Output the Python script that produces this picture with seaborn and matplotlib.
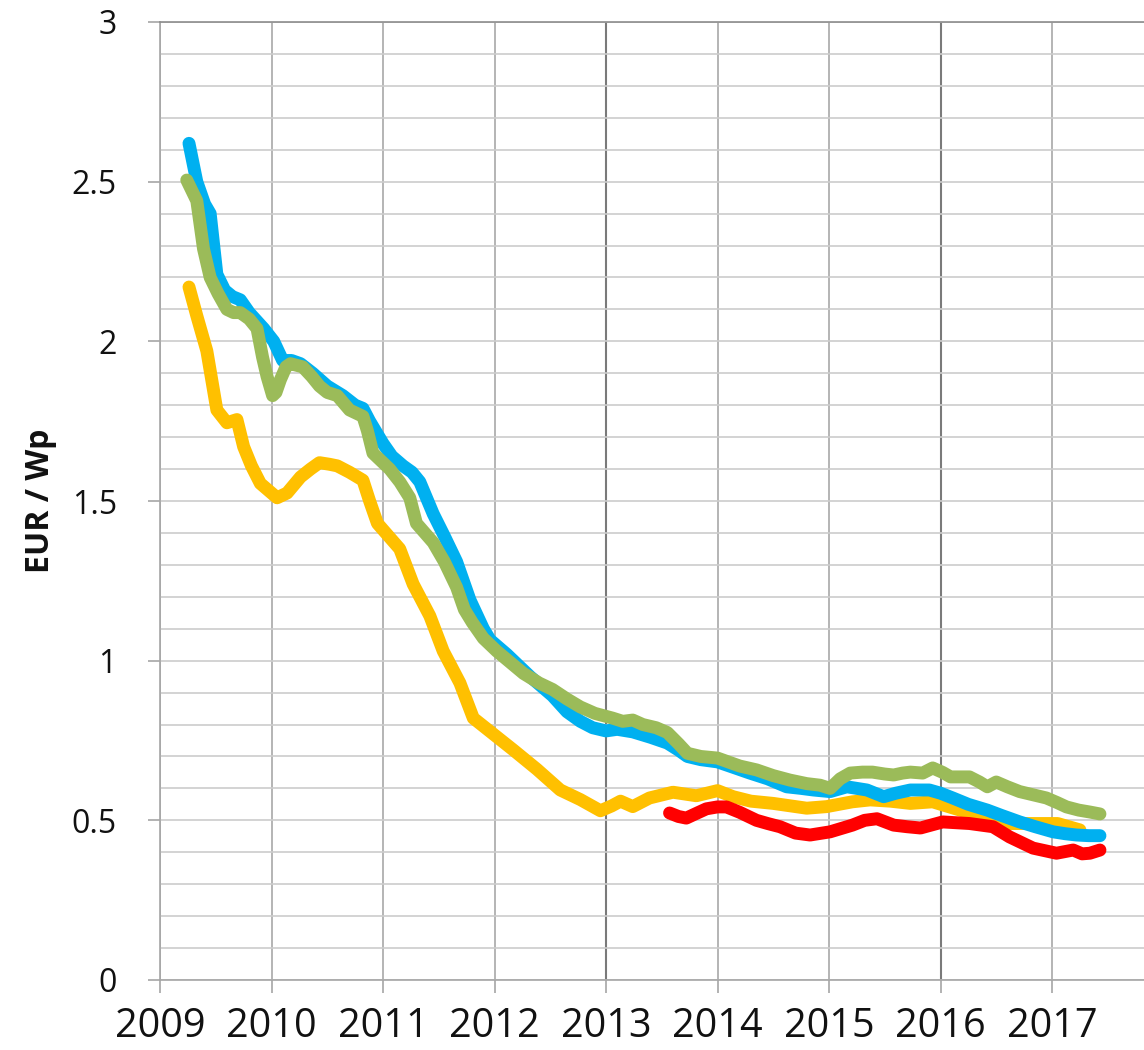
import numpy as np
import pandas as pd
import seaborn as sns
import matplotlib
matplotlib.use("Agg")
import matplotlib.pyplot as plt
from matplotlib.ticker import MultipleLocator

# ---- data: module price index (EUR / Wp) by decimal year ----
blue_x = [2009.26, 2009.33, 2009.40, 2009.45, 2009.51, 2009.58, 2009.65, 2009.72, 2009.80, 2009.93,
          2010.02, 2010.10, 2010.18, 2010.26, 2010.37, 2010.50, 2010.64, 2010.75, 2010.82, 2010.88,
          2011.00, 2011.08, 2011.18, 2011.26, 2011.33, 2011.45, 2011.55, 2011.66, 2011.78, 2011.90,
          2011.96, 2012.11, 2012.20, 2012.32, 2012.42, 2012.52, 2012.65, 2012.77, 2012.88, 2013.00,
          2013.10, 2013.24, 2013.40, 2013.55, 2013.65, 2013.73, 2013.85, 2014.00, 2014.15, 2014.29,
          2014.45, 2014.62, 2014.75, 2014.86, 2015.01, 2015.16, 2015.34, 2015.49, 2015.60, 2015.73,
          2015.90, 2016.00, 2016.11, 2016.25, 2016.42, 2016.55, 2016.71, 2016.85, 2017.01, 2017.12,
          2017.22, 2017.33, 2017.43]
blue_y = [2.62, 2.50, 2.43, 2.40, 2.21, 2.16, 2.14, 2.13, 2.09, 2.04,
          2.00, 1.94, 1.94, 1.93, 1.90, 1.86, 1.83, 1.80, 1.79, 1.75,
          1.68, 1.64, 1.61, 1.59, 1.56, 1.46, 1.39, 1.31, 1.19, 1.10,
          1.065, 1.02, 0.99, 0.95, 0.92, 0.89, 0.84, 0.81, 0.79, 0.78,
          0.785, 0.777, 0.76, 0.742, 0.72, 0.70, 0.69, 0.683, 0.665, 0.648,
          0.63, 0.605, 0.60, 0.595, 0.59, 0.605, 0.595, 0.574, 0.585, 0.595,
          0.595, 0.585, 0.57, 0.55, 0.532, 0.515, 0.495, 0.48, 0.464, 0.458,
          0.454, 0.452, 0.452]

green_x = [2009.24, 2009.33, 2009.39, 2009.45, 2009.52, 2009.60, 2009.66, 2009.72, 2009.80, 2009.87,
           2009.92, 2009.96, 2010.01, 2010.04, 2010.08, 2010.13, 2010.17, 2010.28, 2010.36, 2010.43,
           2010.50, 2010.59, 2010.70, 2010.82, 2010.86, 2010.91, 2011.00, 2011.06, 2011.15, 2011.24,
           2011.30, 2011.35, 2011.45, 2011.55, 2011.66, 2011.73, 2011.80, 2011.90, 2012.02, 2012.14,
           2012.26, 2012.40, 2012.52, 2012.65, 2012.77, 2012.90, 2013.06, 2013.15, 2013.24, 2013.33,
           2013.45, 2013.55, 2013.65, 2013.73, 2013.85, 2014.00, 2014.20, 2014.35, 2014.50, 2014.65,
           2014.80, 2014.92, 2015.01, 2015.10, 2015.19, 2015.30, 2015.39, 2015.50, 2015.58, 2015.66,
           2015.73, 2015.84, 2015.93, 2016.02, 2016.09, 2016.26, 2016.35, 2016.42, 2016.50, 2016.60,
           2016.71, 2016.83, 2016.95, 2017.05, 2017.13, 2017.24, 2017.34, 2017.43]
green_y = [2.505, 2.44, 2.29, 2.20, 2.15, 2.10, 2.09, 2.09, 2.07, 2.04,
           1.95, 1.89, 1.83, 1.84, 1.88, 1.92, 1.93, 1.92, 1.89, 1.86,
           1.84, 1.83, 1.785, 1.765, 1.72, 1.65, 1.62, 1.60, 1.56, 1.51,
           1.43, 1.41, 1.37, 1.31, 1.23, 1.16, 1.12, 1.07, 1.03, 0.995,
           0.96, 0.93, 0.91, 0.88, 0.855, 0.835, 0.82, 0.81, 0.814, 0.80,
           0.79, 0.775, 0.74, 0.71, 0.70, 0.695, 0.67, 0.658, 0.64, 0.626,
           0.615, 0.61, 0.60, 0.63, 0.648, 0.651, 0.651, 0.645, 0.642, 0.648,
           0.651, 0.648, 0.664, 0.65, 0.636, 0.636, 0.62, 0.605, 0.62, 0.605,
           0.59, 0.58, 0.57, 0.555, 0.542, 0.532, 0.526, 0.52]

yellow_x = [2009.26, 2009.33, 2009.42, 2009.51, 2009.60, 2009.69, 2009.75, 2009.82, 2009.90, 2010.05,
            2010.14, 2010.26, 2010.35, 2010.43, 2010.52, 2010.59, 2010.70, 2010.82, 2010.88, 2010.95,
            2011.05, 2011.15, 2011.27, 2011.42, 2011.54, 2011.69, 2011.81, 2011.99, 2012.17, 2012.38,
            2012.59, 2012.77, 2012.95, 2013.05, 2013.13, 2013.24, 2013.39, 2013.60, 2013.81, 2014.00,
            2014.14, 2014.30, 2014.50, 2014.80, 2014.98, 2015.21, 2015.37, 2015.55, 2015.73, 2015.93,
            2016.10, 2016.33, 2016.62, 2016.85, 2017.05, 2017.25]
yellow_y = [2.17, 2.08, 1.97, 1.785, 1.745, 1.755, 1.67, 1.61, 1.555, 1.51,
            1.525, 1.575, 1.60, 1.62, 1.615, 1.61, 1.59, 1.565, 1.50, 1.43,
            1.39, 1.35, 1.24, 1.14, 1.03, 0.93, 0.82, 0.77, 0.72, 0.66,
            0.595, 0.565, 0.53, 0.545, 0.56, 0.543, 0.57, 0.588, 0.577, 0.593,
            0.574, 0.56, 0.553, 0.538, 0.543, 0.558, 0.564, 0.56, 0.553, 0.558,
            0.54, 0.516, 0.49, 0.49, 0.49, 0.47]

red_x = [2013.57, 2013.65, 2013.72, 2013.80, 2013.90, 2014.00, 2014.08, 2014.20, 2014.35, 2014.45,
         2014.56, 2014.70, 2014.83, 2015.01, 2015.21, 2015.32, 2015.43, 2015.58, 2015.70, 2015.82,
         2016.02, 2016.26, 2016.47, 2016.62, 2016.83, 2017.04, 2017.19, 2017.27, 2017.34, 2017.43]
red_y = [0.523, 0.512, 0.507, 0.52, 0.536, 0.542, 0.542, 0.525, 0.50, 0.49,
         0.48, 0.46, 0.454, 0.464, 0.485, 0.50, 0.505, 0.485, 0.48, 0.476,
         0.495, 0.49, 0.48, 0.448, 0.413, 0.397, 0.407, 0.395, 0.397, 0.407]

years = list(range(2009, 2018))
year_labels = [str(y) for y in years]
y_ticks = [0, 0.5, 1, 1.5, 2, 2.5, 3]
y_tick_labels = ["0", "0.5", "1", "1.5", "2", "2.5", "3"]
y_label = "EUR / Wp"

series = [
    (yellow_x, yellow_y, "#FFC000"),
    (blue_x, blue_y, "#00B0F0"),
    (green_x, green_y, "#9BBB59"),
    (red_x, red_y, "#FF0000"),
]

sns.set_theme(style="white")
plt.rcParams["font.family"] = ["Open Sans", "DejaVu Sans"]

fig = plt.figure(figsize=(11.44, 10.5), dpi=100)
ax = fig.add_axes([160 / 1144, 70 / 1050, 984 / 1144, 958 / 1050])

for xs, ys, col in series:
    df = pd.DataFrame({"year": xs, "price": ys})
    sns.lineplot(data=df, x="year", y="price", ax=ax, color=col, linewidth=9.3,
                 estimator=None, sort=False, solid_capstyle="round",
                 solid_joinstyle="round")

ax.set_xlim(2009, 2009 + 984 / 111.5)
ax.set_ylim(0, 3)

ax.set_xticks(years)
ax.set_xticklabels(year_labels, fontsize=28.5, color="#111111")
ax.set_yticks(y_ticks)
ax.set_yticklabels(y_tick_labels, fontsize=23, color="#111111")
ax.yaxis.set_minor_locator(MultipleLocator(0.1))

ax.tick_params(axis="x", which="major", direction="out", length=9, width=1.2,
               color="#a6a6a6", pad=10, bottom=True)
ax.tick_params(axis="y", which="major", direction="out", length=9, width=1.2,
               color="#a6a6a6", pad=22, left=True)
ax.tick_params(axis="y", which="minor", length=0)

# horizontal grid every 0.1, vertical grid every year
ax.grid(axis="y", which="both", color="#cccccc", linewidth=1.2)
ax.grid(axis="x", which="major", color="#a8a8a8", linewidth=1.2)
for yr, gl in zip(years, ax.xaxis.get_gridlines()):
    if yr in (2013, 2016):
        gl.set_color("#7a7a7a")
        gl.set_linewidth(1.5)
ax.set_axisbelow(True)

for side in ("left", "bottom", "top"):
    ax.spines[side].set_color("#a6a6a6")
    ax.spines[side].set_linewidth(1.2)
ax.spines["top"].set_color("#8c8c8c")
ax.spines["right"].set_visible(False)

ax.set_xlabel("")
ax.set_ylabel(y_label, fontsize=23, fontweight="bold", color="#111111")
ax.yaxis.set_label_coords(-0.105, 0.5)

fig.savefig("out.png", dpi=100, facecolor="white")
